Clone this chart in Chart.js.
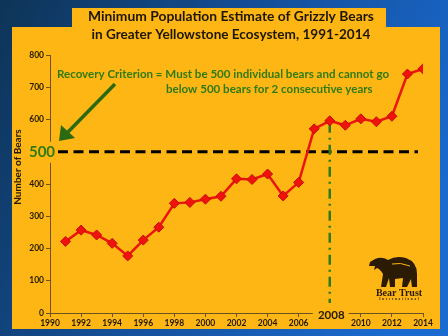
<!DOCTYPE html>
<html>
<head>
<meta charset="utf-8">
<script src="https://cdn.jsdelivr.net/npm/chart.js@4.4.1/dist/chart.umd.min.js"></script>
<style>
  html, body { margin: 0; padding: 0; background: #123f6e; }
  #wrap { width: 448px; height: 336px; }
</style>
</head>
<body>
<div id="wrap"><canvas id="grizzly" width="448" height="336"></canvas></div>
<script>
  // minimum population estimates, Greater Yellowstone
  var years = [1991, 1992, 1993, 1994, 1995, 1996, 1997, 1998, 1999, 2000, 2001, 2002,
               2003, 2004, 2005, 2006, 2007, 2008, 2009, 2010, 2011, 2012, 2013, 2014];
  var bears = [222, 257, 242, 216, 177, 226, 266, 340, 343, 353, 362, 416,
               414, 431, 363, 405, 571, 596, 582, 602, 593, 610, 741, 757];
  var yearTicks = [1990, 1992, 1994, 1996, 1998, 2000, 2002, 2004, 2006, 2008, 2010, 2012, 2014];
  var bearTicks = [0, 100, 200, 300, 400, 500, 600, 700, 800];
  var criterion = 500;
  var firstYearOver = 2008;

  var ORANGE = '#fdb614';
  var GREEN = '#2f7a14';
  var INK = '#241a08';
  var FONT = 'Lato, "Open Sans", sans-serif';

  var points = years.map(function(y, i) { return { x: y, y: bears[i] }; });

  function fitText(ctx, text, width, weight) {
    ctx.font = weight + ' 20px ' + FONT;
    var size = 20 * width / ctx.measureText(text).width;
    ctx.font = weight + ' ' + size.toFixed(2) + 'px ' + FONT;
  }

  function drawBear(ctx) {
    ctx.save();
    ctx.fillStyle = '#2b1a04';
    ctx.beginPath();
    ctx.moveTo(370, 262);
    ctx.lineTo(375, 259);
    ctx.quadraticCurveTo(382, 256, 388, 260);
    ctx.quadraticCurveTo(396, 255, 406, 258);
    ctx.quadraticCurveTo(417, 262, 417, 274);
    ctx.lineTo(417, 287);
    ctx.lineTo(412, 287);
    ctx.lineTo(411, 279);
    ctx.lineTo(407, 287);
    ctx.lineTo(402, 287);
    ctx.lineTo(403, 278);
    ctx.lineTo(395, 279);
    ctx.lineTo(395, 287);
    ctx.lineTo(390, 287);
    ctx.lineTo(389, 278);
    ctx.lineTo(386, 287);
    ctx.lineTo(381, 287);
    ctx.lineTo(383, 274);
    ctx.quadraticCurveTo(380, 269, 377, 268);
    ctx.lineTo(374, 270);
    ctx.lineTo(375, 266);
    ctx.lineTo(369, 266);
    ctx.closePath();
    ctx.fill();
    ctx.strokeStyle = ORANGE;
    ctx.lineWidth = 1;
    ctx.beginPath();
    ctx.moveTo(392, 264);
    ctx.quadraticCurveTo(400, 262, 410, 266);
    ctx.stroke();
    ctx.textAlign = 'center';
    ctx.textBaseline = 'middle';
    ctx.font = 'bold 10px "Liberation Serif", serif';
    ctx.fillText('Bear Trust', 399, 293);
    ctx.font = 'bold 3.4px "Liberation Serif", serif';
    ctx.fillText('I  n  t  e  r  n  a  t  i  o  n  a  l', 399, 299);
    ctx.restore();
  }

  var decor = {
    id: 'decor',
    beforeDraw: function(chart) {
      var ctx = chart.ctx;
      ctx.save();
      var bg = ctx.createLinearGradient(0, 0, 448, 200);
      bg.addColorStop(0, '#0e3457');
      bg.addColorStop(0.55, '#1552a0');
      bg.addColorStop(1, '#1a6ad0');
      ctx.fillStyle = bg;
      ctx.fillRect(0, 0, 448, 336);
      ctx.fillStyle = ORANGE;
      ctx.fillRect(72, 8, 314, 22);
      ctx.fillRect(12, 27, 428, 302);
      ctx.restore();
    },
    beforeDatasetsDraw: function(chart) {
      var ctx = chart.ctx;
      var x = chart.scales.x, y = chart.scales.y;
      ctx.save();
      // recovery criterion
      var y500 = y.getPixelForValue(criterion);
      ctx.strokeStyle = '#000';
      ctx.lineWidth = 3;
      ctx.setLineDash([10, 5.5]);
      ctx.beginPath();
      ctx.moveTo(58, y500);
      ctx.lineTo(418, y500);
      ctx.stroke();
      // first year above the criterion
      var x08 = x.getPixelForValue(firstYearOver);
      ctx.strokeStyle = GREEN;
      ctx.lineWidth = 2.5;
      ctx.setLineDash([10, 5, 2, 5]);
      ctx.beginPath();
      ctx.moveTo(x08, y.getPixelForValue(590));
      ctx.lineTo(x08, 303);
      ctx.stroke();
      ctx.restore();
    },
    afterDraw: function(chart) {
      var ctx = chart.ctx;
      var x = chart.scales.x, y = chart.scales.y;
      var y500 = y.getPixelForValue(criterion);
      var x08 = x.getPixelForValue(firstYearOver);
      ctx.save();
      // gaps in the axes for the big labels
      ctx.fillStyle = ORANGE;
      ctx.fillRect(46, y500 - 10, 8, 21);
      ctx.fillRect(x08 - 17, 309, 36, 8);
      ctx.textAlign = 'center';
      ctx.textBaseline = 'middle';
      ctx.fillStyle = GREEN;
      ctx.font = 'bold 15px ' + FONT;
      ctx.fillText('500', 42, y500);
      ctx.fillStyle = INK;
      ctx.font = 'bold 11.5px ' + FONT;
      ctx.fillText('2008', x08 + 1.5, 315);

      // y axis title
      ctx.save();
      ctx.translate(18, 167);
      ctx.rotate(-Math.PI / 2);
      ctx.font = 'bold 10px ' + FONT;
      ctx.fillText('Number of Bears', 0, 0);
      ctx.restore();

      // title
      ctx.fillStyle = '#1e1606';
      fitText(ctx, 'Minimum Population Estimate of Grizzly Bears', 286, 'bold');
      ctx.fillText('Minimum Population Estimate of Grizzly Bears', 231, 17);
      fitText(ctx, 'in Greater Yellowstone Ecosystem, 1991-2014', 279, 'bold');
      ctx.fillText('in Greater Yellowstone Ecosystem, 1991-2014', 231, 35);

      // criterion note
      ctx.fillStyle = GREEN;
      var line1 = 'Recovery Criterion = Must be 500 individual bears and cannot go';
      var line2 = 'below 500 bears for 2 consecutive years';
      fitText(ctx, line1, 332, 'bold');
      ctx.textAlign = 'left';
      ctx.fillText(line1, 57, 74);
      ctx.fillText(line2, 166, 89);

      // arrow to the 500 line
      ctx.strokeStyle = '#2c6a12';
      ctx.fillStyle = '#2c6a12';
      ctx.lineWidth = 3.5;
      ctx.beginPath();
      ctx.moveTo(115, 84);
      ctx.lineTo(68, 132);
      ctx.stroke();
      ctx.beginPath();
      ctx.moveTo(59, 141);
      ctx.lineTo(61, 125);
      ctx.lineTo(75, 138);
      ctx.closePath();
      ctx.fill();

      drawBear(ctx);
      ctx.restore();
    }
  };

  var ctx = document.getElementById('grizzly').getContext('2d');
  new Chart(ctx, {
    type: 'line',
    data: {
      datasets: [{
        label: 'Grizzly bears',
        data: points,
        borderColor: '#ea150d',
        borderWidth: 2.5,
        pointStyle: 'rectRot',
        pointRadius: 5,
        pointBackgroundColor: '#f0120c',
        pointBorderColor: '#c40d08',
        pointBorderWidth: 1,
        tension: 0
      }]
    },
    options: {
      responsive: false,
      devicePixelRatio: 1,
      animation: false,
      layout: { padding: { left: 12, top: 55, right: 25, bottom: 7 } },
      plugins: { legend: { display: false }, tooltip: { enabled: false } },
      scales: {
        x: {
          type: 'linear',
          min: 1990,
          max: 2014,
          afterBuildTicks: function(s) { s.ticks = yearTicks.map(function(v) { return { value: v }; }); },
          afterFit: function(s) { s.height = 16; },
          grid: { drawOnChartArea: false, tickLength: 4, color: '#6b5220' },
          border: { color: '#6b5220', width: 1 },
          ticks: {
            autoSkip: false,
            maxRotation: 0,
            padding: 1,
            color: INK,
            font: { family: FONT, size: 8.5, weight: 'bold' },
            callback: function(v) { return v === firstYearOver ? '' : String(v); }
          }
        },
        y: {
          min: 0,
          max: 800,
          afterBuildTicks: function(s) { s.ticks = bearTicks.map(function(v) { return { value: v }; }); },
          afterFit: function(s) { s.width = 38; },
          grid: { drawOnChartArea: false, tickLength: 4, color: '#6b5220' },
          border: { color: '#6b5220', width: 1 },
          ticks: {
            padding: 2,
            color: INK,
            font: { family: FONT, size: 8.5, weight: 'bold' },
            callback: function(v) { return v === criterion ? '' : v; }
          }
        }
      }
    },
    plugins: [decor]
  });
</script>
</body>
</html>
